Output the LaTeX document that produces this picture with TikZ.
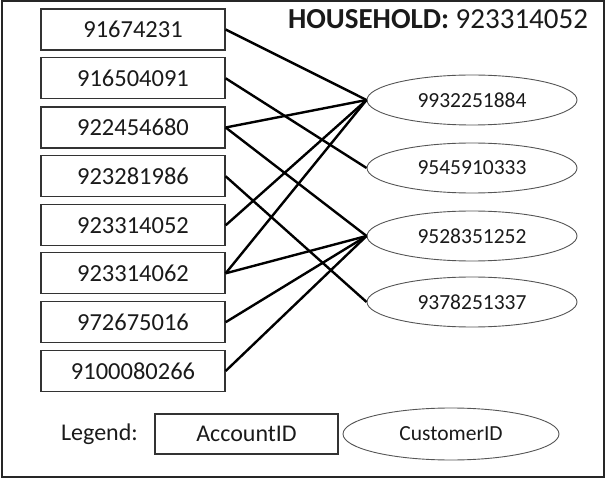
\documentclass[tikz,border=0pt]{standalone}
\usepackage{fontspec}
\setmainfont{Carlito}
\usetikzlibrary{shapes.geometric}
\definecolor{txt}{HTML}{1A1A1A}
\definecolor{boxline}{HTML}{333333}
\definecolor{ellline}{HTML}{555555}
\tikzset{
  acct/.style={draw=boxline, line width=1.3pt, minimum width=184pt, minimum height=41pt, inner sep=0pt, text=txt, font=\fontsize{24.5}{28}\selectfont},
  cust/.style={draw=ellline, ellipse, line width=0.9pt, minimum width=210pt, minimum height=50pt, inner sep=0pt, text=txt, font=\fontsize{21.5}{25}\selectfont},
  link/.style={line width=2.4pt, black},
}
\begin{document}
\begin{tikzpicture}[x=1pt,y=-1pt]
\useasboundingbox (0,0) rectangle (605,478);
\draw[line width=2pt, black!85] (1.5,1) rectangle (603.5,476.5);
\node[text=txt, font=\fontsize{29}{33}\selectfont] (title) at (438,19) {\textbf{HOUSEHOLD:} 923314052};
% account boxes
\node[acct] (a1) at (133,29.5) {91674231};
\node[acct] (a2) at (133,78.3) {916504091};
\node[acct] (a3) at (133,127.5) {922454680};
\node[acct] (a4) at (133,176.3) {923281986};
\node[acct] (a5) at (133,225.3) {923314052};
\node[acct] (a6) at (133,273.3) {923314062};
\node[acct] (a7) at (133,322.2) {972675016};
\node[acct] (a8) at (133,371) {9100080266};
% customer ellipses
\node[cust] (c1) at (472,100) {9932251884};
\node[cust] (c2) at (472,168) {9545910333};
\node[cust] (c3) at (472,236) {9528351252};
\node[cust] (c4) at (472,302) {9378251337};
% links
\draw[link] (a1.east) -- (c1.west);
\draw[link] (a2.east) -- (c2.west);
\draw[link] (a3.east) -- (c1.west);
\draw[link] (a3.east) -- (c3.west);
\draw[link] (a4.east) -- (c4.west);
\draw[link] (a5.east) -- (c1.west);
\draw[link] (a6.east) -- (c1.west);
\draw[link] (a6.east) -- (c3.west);
\draw[link] (a7.east) -- (c3.west);
\draw[link] (a8.east) -- (c3.west);
% legend
\node[text=txt, font=\fontsize{24}{28}\selectfont] (leg) at (99.5,434) {Legend:};
\node[acct, minimum width=183pt, minimum height=40pt, font=\fontsize{24}{28}\selectfont] (lacct) at (246.5,434) {AccountID};
\node[cust, minimum width=216pt, minimum height=52pt] (lcust) at (451,434) {CustomerID};
\end{tikzpicture}
\end{document}
